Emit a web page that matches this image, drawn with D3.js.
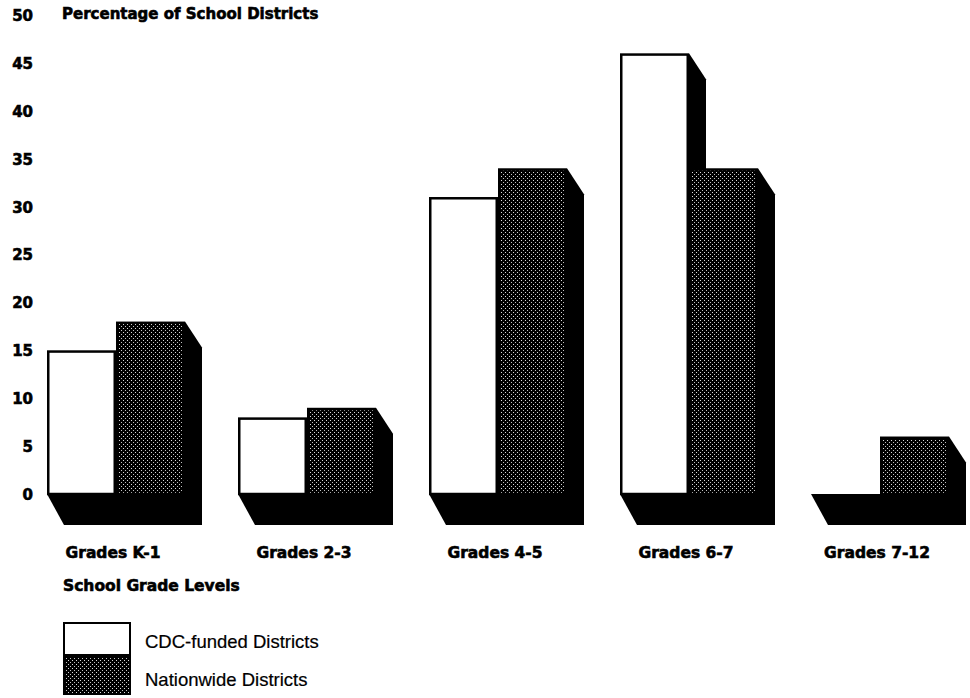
<!DOCTYPE html>
<html>
<head>
<meta charset="utf-8">
<script src="https://cdn.jsdelivr.net/npm/d3@7"></script>
<style>
  html, body { margin: 0; padding: 0; background: #fff; }
  svg { display: block; }
  .bold { font-family: "DejaVu Sans", sans-serif; font-weight: bold; fill: #000; stroke: #000; stroke-width: 0.6px; }
  .reg { font-family: "Liberation Sans", Arial, sans-serif; fill: #000; stroke: #000; stroke-width: 0.2px; }
</style>
</head>
<body>
<svg id="chart" width="970" height="698"></svg>
<script>
// Grade levels and the share of districts (%) teaching the topic at each level
const categories = ["Grades K-1", "Grades 2-3", "Grades 4-5", "Grades 6-7", "Grades 7-12"];
const seriesNames = ["CDC-funded Districts", "Nationwide Districts"];
const cdcFunded = [15, 8, 31, 46, 0];
const nationwide = [18, 9, 34, 34, 6];
const yTicks = [0, 5, 10, 15, 20, 25, 30, 35, 40, 45, 50];

const svg = d3.select("#chart");

// Stipple fill used for the nationwide series
const defs = svg.append("defs");
const pat = defs.append("pattern")
  .attr("id", "stipple")
  .attr("patternUnits", "userSpaceOnUse")
  .attr("width", 4).attr("height", 4);
pat.append("rect").attr("width", 4).attr("height", 4).attr("fill", "#000");
pat.append("rect").attr("x", 0).attr("y", 0).attr("width", 1).attr("height", 1).attr("fill", "#dcdcdc");
pat.append("rect").attr("x", 2).attr("y", 2).attr("width", 1).attr("height", 1).attr("fill", "#c4c4c4");

const x = d3.scaleBand()
  .domain(categories)
  .range([47, 949])
  .paddingInner(0.2775)
  .paddingOuter(0);

const xs = d3.scaleBand()
  .domain(seriesNames)
  .range([0, x.bandwidth()]);

const y = d3.scaleLinear().domain([0, 50]).range([494, 15]);

// Oblique depth of the extruded sides and the floor slab
const side = { dx: 17, dy: 26 };
const floor = { dx: 17, dy: 31 };
const base = y(0);

const rows = categories.map((c, i) => ({
  cat: c,
  vals: [
    { name: seriesNames[0], value: cdcFunded[i] },
    { name: seriesNames[1], value: nationwide[i] }
  ]
}));

const g = svg.append("g");

const group = g.selectAll("g.grp")
  .data(rows)
  .join("g")
  .attr("class", "grp")
  .attr("transform", d => `translate(${x(d.cat)},0)`);

// Floor slab under each pair of bars
group.append("path")
  .attr("fill", "#000")
  .attr("d", () => {
    const w = x.bandwidth();
    return `M0,${base} L${floor.dx},${base + floor.dy} L${w + side.dx},${base + floor.dy} L${w + side.dx},${base} Z`;
  });

// Each bar: black side face, then front face
group.each(function (d) {
  const gg = d3.select(this);
  d.vals.forEach((v, j) => {
    if (v.value <= 0) return;
    const x0 = xs(v.name);
    const x1 = x0 + xs.bandwidth();
    const top = y(v.value);
    gg.append("path")
      .attr("fill", "#000")
      .attr("d", `M${x1},${top} L${x1 + side.dx},${top + side.dy} L${x1 + side.dx},${base + floor.dy} L${x1},${base + floor.dy} Z`);
    gg.append("rect")
      .attr("x", x0 + 1.25)
      .attr("y", top + 1.25)
      .attr("width", xs.bandwidth() - 2.5)
      .attr("height", base - top - 1.25)
      .attr("fill", j === 0 ? "#fff" : "url(#stipple)")
      .attr("stroke", "#000")
      .attr("stroke-width", 2.5);
  });
});

// Y axis: tick numbers only
const yAxis = d3.axisLeft(y).tickValues(yTicks).tickSize(0).tickPadding(0);
const ya = svg.append("g").attr("transform", "translate(33,0)").call(yAxis);
ya.select(".domain").remove();
ya.selectAll("text")
  .attr("class", "bold")
  .attr("font-size", 15)
  .attr("dy", "0.36em")
  .style("font-family", "'DejaVu Sans', sans-serif")
  .style("font-weight", "bold");

svg.append("text").attr("class", "bold").attr("x", 62).attr("y", 19)
  .attr("font-size", 15).text("Percentage of School Districts");

// Category labels
svg.append("g").selectAll("text")
  .data(categories)
  .join("text")
  .attr("class", "bold")
  .attr("font-size", 15.5)
  .attr("text-anchor", "middle")
  .attr("x", d => x(d) + x.bandwidth() / 2 - 3)
  .attr("y", 558)
  .text(d => d);

svg.append("text").attr("class", "bold").attr("x", 63).attr("y", 591)
  .attr("font-size", 15.5).text("School Grade Levels");

// Legend
const legend = svg.append("g");
const legendRows = [
  { name: seriesNames[0], fill: "#fff", y0: 623, h: 32, ty: 648 },
  { name: seriesNames[1], fill: "url(#stipple)", y0: 657, h: 37, ty: 686 }
];
legend.selectAll("rect")
  .data(legendRows)
  .join("rect")
  .attr("x", 64).attr("y", d => d.y0)
  .attr("width", 66).attr("height", d => d.h)
  .attr("fill", d => d.fill)
  .attr("stroke", "#000").attr("stroke-width", 2);
legend.selectAll("text")
  .data(legendRows)
  .join("text")
  .attr("class", "reg")
  .attr("font-size", 18.5)
  .attr("x", 145).attr("y", d => d.ty)
  .text(d => d.name);
</script>
</body>
</html>
